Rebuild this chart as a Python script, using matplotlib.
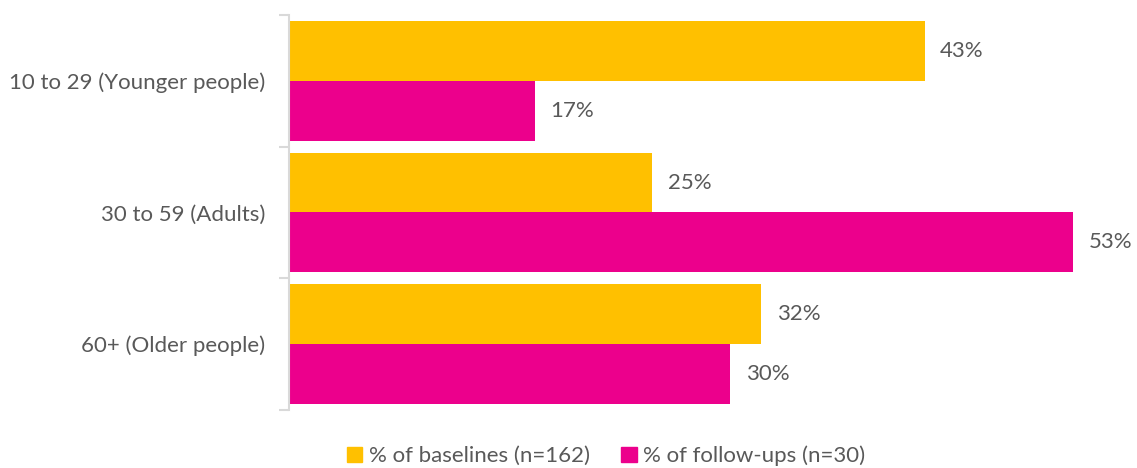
import numpy as np
import matplotlib.pyplot as plt
from matplotlib.patches import Patch

categories = ['10 to 29 (Younger people)', '30 to 59 (Adults)', '60+ (Older people)']
baselines = [43.2, 24.7, 32.1]
follow_ups = [16.7, 53.3, 30.0]
series_names = ['% of baselines (n=162)', '% of follow-ups (n=30)']
colors = ['#FFC000', '#EC008C']

plt.rcParams['font.family'] = ['Lato', 'DejaVu Sans']
text_color = '#595959'

fig = plt.figure(figsize=(11.37, 4.68), dpi=100)
ax = fig.add_axes([0.254, 0.124, 0.717, 0.844])

y = np.arange(len(categories))
h = 0.455
ax.barh(y - h / 2, baselines, h, color=colors[0])
ax.barh(y + h / 2, follow_ups, h, color=colors[1])

for i in range(len(categories)):
    ax.text(baselines[i] + 1.05, y[i] - h / 2, '%d%%' % round(baselines[i]), va='center', ha='left',
            fontsize=16, color=text_color)
    ax.text(follow_ups[i] + 1.05, y[i] + h / 2, '%d%%' % round(follow_ups[i]), va='center', ha='left',
            fontsize=16, color=text_color)

ax.set_xlim(0, 55.4)
ax.set_ylim(len(categories) - 0.5, -0.5)
ax.set_yticks(y)
ax.set_yticklabels(categories, fontsize=16, color=text_color)
ax.tick_params(axis='y', which='major', length=0, pad=17)
ax.set_yticks(np.arange(len(categories) + 1) - 0.5, minor=True)
ax.tick_params(axis='y', which='minor', length=7, width=1.5, color='#d9d9d9')
ax.set_xticks([])

for s in ['top', 'right', 'bottom']:
    ax.spines[s].set_visible(False)
ax.spines['left'].set_color('#d9d9d9')
ax.spines['left'].set_linewidth(1.5)

handles = [Patch(color=c) for c in colors]
fig.legend(handles, series_names, loc='center', bbox_to_anchor=(0.533, 0.026), ncol=2,
           frameon=False, fontsize=16, handlelength=0.7, handleheight=0.7,
           handletextpad=0.3, columnspacing=1.4, labelcolor=text_color)

fig.savefig('out.png', dpi=100)
